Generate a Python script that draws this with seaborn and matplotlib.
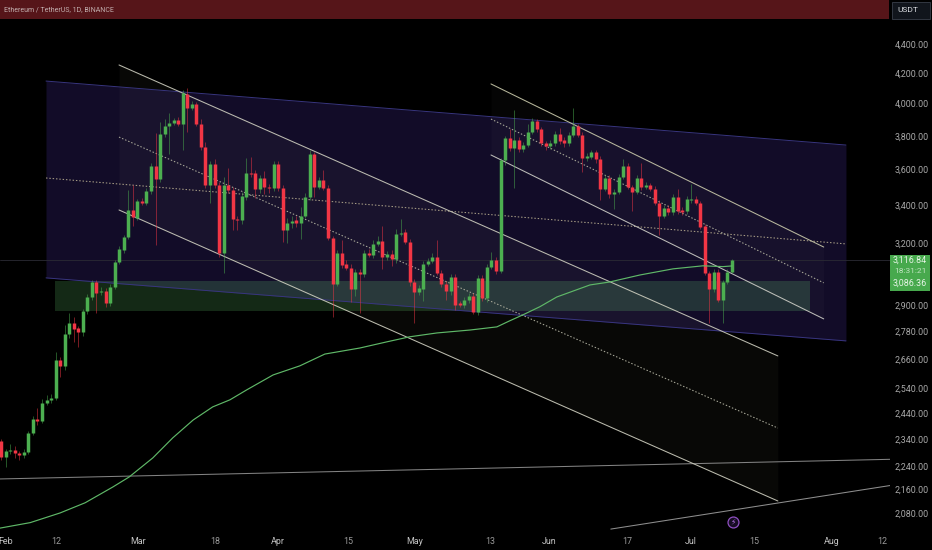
import matplotlib
matplotlib.use("Agg")
import matplotlib.pyplot as plt
from matplotlib.patches import Rectangle
from matplotlib.ticker import NullLocator
import numpy as np
import pandas as pd
import seaborn as sns

# ---------- data (daily candles, day 0 = 1 Feb) ----------
first_day = -1
open_ = [2333,2275,2296,2300,2289,2282,2293,2364,2417,2409,
         2480,2492,2500,2656,2631,2768,2817,2795,2777,2872,
         2937,3008,2960,2965,2909,2984,3106,3166,3233,3375,
         3333,3425,3414,3480,3621,3547,3811,3860,3879,3897,
         3872,4062,3973,3998,3872,3732,3513,3633,3513,3151,
         3513,3485,3327,3322,3447,3581,3581,3491,3552,3502,
         3496,3633,3496,3269,3306,3322,3306,3343,3447,3691,
         3502,3541,3496,3227,2999,3151,3096,3077,2975,3057,
         3047,3151,3141,3196,3212,3131,3146,3121,3248,3259,
         3207,3008,2961,2975,3096,3111,3131,3052,2999,2965,
         3033,2909,2900,2923,2942,2868,3028,2932,3082,3116,
         3062,3656,3786,3726,3774,3720,3744,3823,3891,3841,
         3756,3738,3756,3811,3774,3756,3805,3860,3805,3668,
         3674,3703,3662,3491,3552,3463,3474,3558,3621,3502,
         3474,3552,3502,3513,3491,3414,3343,3386,3364,3447,
         3375,3370,3430,3436,3414,3290,3052,2975,3057,2923,
         3008,3057]
high = [2340,2305,2322,2316,2296,2305,2372,2428,2460,2496,
        2510,2515,2690,2668,2808,2863,2845,2805,2880,2950,
        3018,3018,2985,2978,2998,3115,3185,3245,3485,3513,
        3435,3440,3495,3640,3817,3885,3900,3940,3910,3915,
        4090,4100,4020,4010,3900,3760,3650,3660,3530,3560,
        3610,3500,3345,3475,3668,3674,3600,3570,3590,3520,
        3650,3650,3510,3330,3345,3345,3390,3470,3715,3705,
        3555,3600,3510,3240,3165,3217,3115,3095,3070,3070,
        3165,3170,3215,3235,3290,3160,3165,3275,3327,3275,
        3220,3025,2995,3110,3125,3150,3217,3065,3015,3045,
        3045,2920,2935,2955,2955,3040,3040,3095,3155,3130,
        3670,3800,3840,3960,3790,3760,3875,3910,3905,3855,
        3770,3775,3830,3850,3795,3820,3973,3875,3820,3695,
        3715,3715,3680,3570,3570,3490,3575,3660,3640,3515,
        3570,3640,3530,3525,3505,3430,3400,3400,3465,3490,
        3390,3450,3519,3450,3425,3300,3060,3070,3070,3020,
        3070,3120]
low = [2262,2240,2285,2270,2264,2270,2285,2355,2395,2400,
       2470,2480,2490,2585,2614,2750,2733,2712,2760,2860,
       2925,2863,2945,2890,2895,2975,3095,3150,3220,3290,
       3320,3400,3400,3465,3191,3530,3790,3690,3865,3860,
       3714,3823,3960,3860,3715,3495,3414,3495,3130,3052,
       3470,3270,3270,3300,3430,3560,3440,3470,3460,3470,
       3480,3480,3207,3200,3280,3285,3220,3330,3430,3447,
       3490,3485,3215,2845,2990,3075,3065,2914,2940,2863,
       3030,3130,3125,3185,3070,3115,3085,3100,3235,3195,
       2990,2818,2945,2920,3085,3100,3040,2985,2923,2945,
       2877,2890,2885,2910,2860,2855,2920,2915,3070,3045,
       3050,3625,3710,3496,3700,3705,3730,3810,3825,3740,
       3715,3720,3740,3750,3735,3740,3790,3790,3586,3650,
       3660,3640,3430,3480,3440,3380,3460,3545,3490,3370,
       3460,3485,3490,3480,3400,3244,3330,3350,3350,3355,
       3350,3355,3415,3400,3275,3040,2818,2960,2915,2818,
       3000,3050]
close = [2275,2296,2300,2289,2282,2293,2364,2417,2409,2480,
         2492,2500,2656,2631,2768,2817,2790,2777,2872,2937,
         3008,2956,2965,2909,2984,3106,3171,3233,3375,3338,
         3425,3414,3480,3621,3547,3811,3860,3879,3897,3872,
         4068,3973,3998,3872,3732,3513,3633,3513,3151,3513,
         3485,3327,3322,3452,3581,3575,3491,3552,3502,3496,
         3633,3496,3269,3306,3317,3306,3343,3447,3691,3502,
         3541,3496,3227,2999,3151,3091,3077,2975,3057,3047,
         3151,3141,3196,3212,3131,3146,3121,3248,3253,3207,
         3008,2961,2980,3096,3111,3131,3052,2999,2965,3033,
         2900,2900,2923,2942,2868,3028,2932,3082,3116,3062,
         3656,3786,3726,3774,3720,3744,3823,3891,3841,3756,
         3738,3756,3811,3768,3756,3805,3860,3805,3668,3679,
         3703,3662,3491,3552,3463,3474,3558,3621,3502,3474,
         3552,3502,3513,3491,3414,3343,3386,3364,3447,3370,
         3364,3436,3436,3414,3285,3052,2975,3057,2923,3008,
         3057,3116.84]

ema_days = [-1.3,5.4,12,17.5,23.6,27.2,32.4,36.8,41.3,45.6,49.4,53.1,58.9,64.8,70.3,78,84,89,95,
            102.3,108.2,111,113.9,117.7,121.4,128.7,133,139.7,147,153.6,158,160]
ema_vals = [2030,2048,2080,2114,2168,2203,2271,2345,2413,2464,2492,2532,2593,2631,2681,2707,2734,2756,2773,
            2786,2800,2827,2854,2892,2937,2994,3008,3042,3072,3087,3083,3086.36]

# drawn channels: (start day, end day), (start price, end price)
range_days = [8.88, 185.1]
range_top = [4147, 3744]
range_mid = [3552, 3197]
range_bot = [3028, 2738]

chan_a_days = [24.96, 170.1]
chan_a_top = [4255, 2673]
chan_a_mid = [3792, 2382]
chan_a_bot = [3375, 2120]

chan_b_days = [106.9, 180.2]
chan_b_top = [4128, 3181]
chan_b_mid = [3903, 3004]
chan_b_bot = [3685, 2836]

zone_days = [10.9, 177.1]
zone_prices = [2872, 3013]

trend1_days = [-1.26, 194.8]
trend1_vals = [2196, 2266]
trend2_days = [133.3, 194.8]
trend2_vals = [2027, 2173]

last_price = 3116.84
event_day, event_price = 160.2, 2050

y_ticks = [4400,4200,4000,3800,3600,3400,3200,2900,2780,2660,2540,2440,2340,2240,2160,2080]
x_tick_pos = [0,11.1,29.1,46.1,60,75.4,90,106.7,119.7,136.9,151,165,182,193]
x_tick_labels = ["Feb","12","Mar","18","Apr","15","May","13","Jun","17","Jul","15","Aug","12"]
month_names = {"Feb","Mar","Apr","May","Jun","Jul","Aug"}

title = "Ethereum / TetherUS, 1D, BINANCE"

# ---------- style ----------
W, H = 932, 550
sns.set_theme(style="dark", rc={"axes.facecolor": "black", "figure.facecolor": "black",
                                "axes.grid": False, "savefig.facecolor": "black"})
plt.rcParams["font.family"] = ["Roboto", "DejaVu Sans"]
UP, DOWN = "#4caf50", "#f23645"

fig = plt.figure(figsize=(W / 100, H / 100), dpi=100)
ax = fig.add_axes([0, 1 - 530 / H, 890 / W, 510 / H])
ax.set_yscale("log")
ax.set_xlim(-1.256, 194.8)
ax.set_ylim(2024, 4572)
for s in ax.spines.values():
    s.set_visible(False)


def line(xs, ys, color, lw=0.7, ls="-", alpha=1.0, z=3):
    sns.lineplot(x=xs, y=ys, ax=ax, color=color, lw=lw, linestyle=ls, alpha=alpha,
                 zorder=z, estimator=None, sort=False, legend=False)


# ---------- fills ----------
ax.fill_between(range_days, range_top, range_bot, color=(105/255, 70/255, 225/255), alpha=0.18, lw=0, zorder=1)
ax.fill_between(chan_a_days, chan_a_top, chan_a_bot, color="#e8e8c0", alpha=0.035, lw=0, zorder=1.1)
ax.fill_between(chan_b_days, chan_b_top, chan_b_bot, color="#e8e8e0", alpha=0.025, lw=0, zorder=1.2)
ax.fill_between(zone_days, [zone_prices[0]] * 2, [zone_prices[1]] * 2,
                color=(115/255, 230/255, 125/255), alpha=0.18, lw=0, zorder=1.3)

# last-price line
ax.axhline(last_price, color="#2b2b34", lw=0.6, zorder=1.5)

# ---------- trend lines ----------
line(trend1_days, trend1_vals, "#828282", 0.75)
line(trend2_days, trend2_vals, "#8e8e8e", 0.75)

line(range_days, range_top, "#38357f", 0.7)
line(range_days, range_bot, "#38357f", 0.7)
line(range_days, range_mid, "#a89e86", 0.75, (0, (1.4, 1.8)))

line(chan_a_days, chan_a_top, "#cfcfc0", 0.75, alpha=0.9)
line(chan_a_days, chan_a_bot, "#cfcfc0", 0.75, alpha=0.9)
line(chan_a_days, chan_a_mid, "#aaaa9a", 0.75, (0, (1.4, 1.8)))

line(chan_b_days, chan_b_top, "#cbcbac", 0.75, alpha=0.9)
line(chan_b_days, chan_b_bot, "#cfcfc8", 0.75, alpha=0.9)
line(chan_b_days, chan_b_mid, "#aaaa9a", 0.75, (0, (1.4, 1.8)))

# ---------- candles ----------
days = np.arange(first_day, first_day + len(open_))
df = pd.DataFrame({"day": days, "open": open_, "high": high, "low": low, "close": close})
colors = [UP if c >= o else DOWN for o, c in zip(df["open"], df["close"])]
ax.vlines(df["day"], df["low"], df["high"], colors=colors, lw=0.7, alpha=0.5, zorder=4)
ax.vlines(df["day"], df[["open", "close"]].min(axis=1), df[["open", "close"]].max(axis=1),
          colors=colors, lw=2.5, zorder=5, capstyle="butt")

# ---------- moving average ----------
line(ema_days, ema_vals, "#5fb868", 0.85, z=6)

# event marker
sns.scatterplot(x=[event_day], y=[event_price], ax=ax, s=62, facecolor="#160c22",
                edgecolor="#8e4fc0", linewidth=0.9, zorder=7, legend=False, clip_on=False)
ax.text(event_day, event_price, "\u26a1", color="#b070e0", fontsize=5.5, ha="center", va="center",
        family="DejaVu Sans", zorder=8)

# ---------- axes ----------
ax.yaxis.tick_right()
ax.set_yticks(y_ticks)
ax.set_yticklabels([f"{v:,.2f}" for v in y_ticks])
ax.yaxis.set_minor_locator(NullLocator())
ax.tick_params(axis="y", which="major", length=0, pad=3.6, labelsize=6.4, labelcolor="#a9a9a9")
ax.set_xticks(x_tick_pos)
ax.set_xticklabels(x_tick_labels)
ax.tick_params(axis="x", length=0, pad=5, labelsize=6.4, labelcolor="#9a9a9a")
for lab in ax.get_xticklabels():
    if lab.get_text() in month_names:
        lab.set_color("#c4c4c4")
ax.set_xlabel("")
ax.set_ylabel("")


# ---------- header and price tag ----------
def fx(px):
    return px / W


def fy(py):
    return 1 - py / H


def rect(x0, y0, x1, y1, **kw):
    fig.add_artist(Rectangle((fx(x0), fy(y1)), fx(x1 - x0), y1 / H - y0 / H,
                             transform=fig.transFigure, **kw))


rect(0, 0, 889, 19, facecolor="#561519", edgecolor="none")
rect(892, 1.5, 930, 18.5, facecolor="#11151c", edgecolor="#3a3f4a", lw=0.6)
fig.text(fx(4), fy(10), title, color="#c2aeae", fontsize=5.0, va="center", ha="left")
fig.text(fx(897), fy(10), "USDT", color="#d8dade", fontsize=6.0, va="center", ha="left")

rect(890, 255, 930, 291, facecolor="#47a94d", edgecolor="none")
fig.text(fx(927), fy(260.5), f"{last_price:,.2f}", color="#e6f4e6", fontsize=6.4, va="center", ha="right")
fig.text(fx(927), fy(271), "18:31:21", color="#bfe3c0", fontsize=6.0, va="center", ha="right")
fig.text(fx(927), fy(283.5), f"{ema_vals[-1]:,.2f}", color="#e6f4e6", fontsize=6.4, va="center", ha="right")

fig.savefig("out.png", dpi=100)
